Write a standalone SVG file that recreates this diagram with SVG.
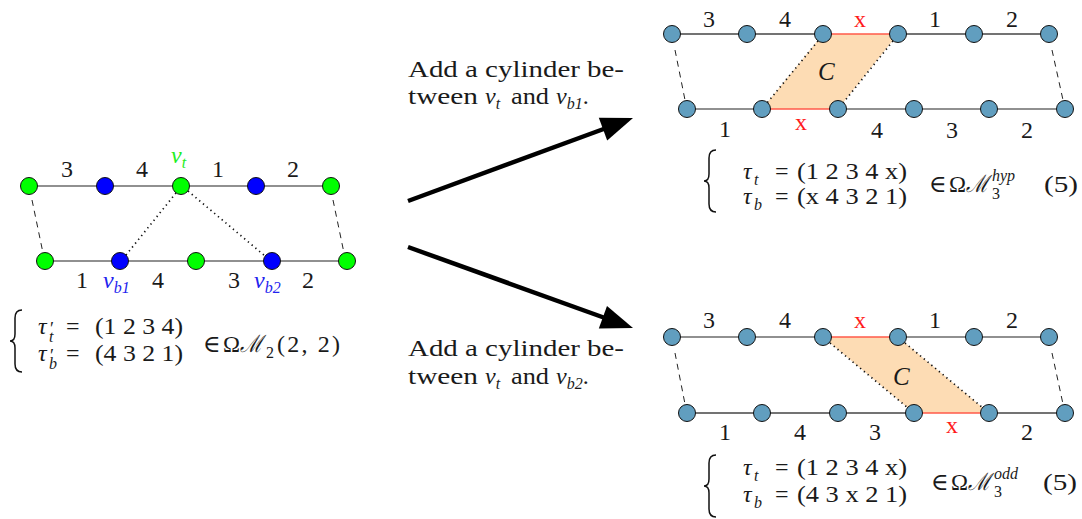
<svg xmlns="http://www.w3.org/2000/svg" width="1082" height="519" viewBox="0 0 1082 519">
<style>
text{font-family:"Liberation Serif","DejaVu Serif",serif;fill:#1a1a1a}
.lbl{font-size:24px;text-anchor:middle}
.red{fill:#ff1a1a}
.it{font-style:italic}
.m{font-size:24px}
.s{font-size:16px}
.pr{font-size:18px;font-style:normal}
.edge{stroke:#222;stroke-width:1.2;fill:none}
.edgeg{stroke:#444;stroke-width:1.4;fill:none}
.rede{stroke:#ff5a4a;stroke-width:1.6;fill:none}
.dash{stroke:#222;stroke-width:1;stroke-dasharray:6 5;fill:none}
.dot{stroke:#111;stroke-width:1.7;stroke-dasharray:1.3 3.6;fill:none}
.nb{fill:#619ebf;stroke:#111;stroke-width:1}
.ng{fill:#00ff00;stroke:#111;stroke-width:1}
.nu{fill:#0000ff;stroke:#111;stroke-width:1}
.cyl{fill:#fddcb4;stroke:none}
.brace{stroke:#111;stroke-width:1.5;fill:none}
.arrow{stroke:#000;stroke-width:4.5;fill:none}
</style>

<!-- Left diagram -->
<g id="left-edges">
<line class="edge" x1="29" y1="186" x2="331" y2="186"/>
<line class="edge" x1="45" y1="261" x2="347" y2="261"/>
<line class="dash" x1="32" y1="200" x2="43" y2="253"/>
<line class="dash" x1="333" y1="200" x2="344" y2="253"/>
<line class="dot" x1="176" y1="193" x2="126" y2="255"/>
<line class="dot" x1="188" y1="191" x2="265" y2="256"/>
</g>
<g id="left-nodes">
<circle class="ng" cx="29" cy="186" r="8.5"/>
<circle class="nu" cx="105" cy="186" r="8.5"/>
<circle class="ng" cx="181" cy="186" r="8.5"/>
<circle class="nu" cx="256" cy="186" r="8.5"/>
<circle class="ng" cx="331" cy="186" r="8.5"/>
<circle class="ng" cx="45" cy="261" r="8.5"/>
<circle class="nu" cx="120" cy="261" r="8.5"/>
<circle class="ng" cx="196" cy="261" r="8.5"/>
<circle class="nu" cx="272" cy="261" r="8.5"/>
<circle class="ng" cx="347" cy="261" r="8.5"/>
</g>
<g id="left-labels">
<text class="lbl" x="67" y="177">3</text>
<text class="lbl" x="142" y="177">4</text>
<text class="lbl" x="218" y="177">1</text>
<text class="lbl" x="293" y="177">2</text>
<text x="171" y="163" class="m it" style="fill:#22ee22">v<tspan class="s" dy="5">t</tspan></text>
<text class="lbl" x="82" y="288">1</text>
<text class="lbl" x="158" y="288">4</text>
<text class="lbl" x="234" y="288">3</text>
<text class="lbl" x="308" y="288">2</text>
<text x="103" y="288" class="m it" style="fill:#2222ee">v<tspan class="s" dy="5">b1</tspan></text>
<text x="254" y="288" class="m it" style="fill:#2222ee">v<tspan class="s" dy="5">b2</tspan></text>
</g>
<g id="left-formula">
<path class="brace" d="M22,310 Q15,310 15,318 L15,334 Q15,341 10,341 Q15,341 15,348 L15,364 Q15,372 22,372"/>
<text x="38" y="334" class="m it">τ<tspan class="pr" x="50" dy="1">′</tspan><tspan class="s" x="49" dy="7">t</tspan></text>
<text x="66" y="334" class="m">=</text>
<text x="95" y="334" class="m" textLength="88" lengthAdjust="spacingAndGlyphs">(1 2 3 4)</text>
<text x="38" y="361" class="m it">τ<tspan class="pr" x="50" dy="1">′</tspan><tspan class="s" x="49" dy="7">b</tspan></text>
<text x="66" y="361" class="m">=</text>
<text x="95" y="361" class="m" textLength="88" lengthAdjust="spacingAndGlyphs">(4 3 2 1)</text>
<text x="203" y="352" class="m">∈</text>
<text x="223" y="352" class="m" textLength="17" lengthAdjust="spacingAndGlyphs">Ω</text>
<text x="240" y="352" class="m it" textLength="23" lengthAdjust="spacingAndGlyphs">ℳ</text>
<text x="266" y="358" class="s">2</text>
<text x="277" y="352" class="m" textLength="63">(2, 2)</text>
</g>

<!-- Arrows -->
<g id="connectors">
<line class="arrow" x1="408" y1="201" x2="605" y2="128.5"/>
<polygon points="633,118 607.2,140.4 598.8,117.8" fill="#000"/>
<line class="arrow" x1="408" y1="247" x2="605" y2="318"/>
<polygon points="633,328 598.8,328.5 607,306" fill="#000"/>
</g>
<g id="caption-top">
<text x="408" y="77" class="m" textLength="216" lengthAdjust="spacingAndGlyphs">Add a cylinder be-</text>
<text x="408" y="104" class="m" textLength="70" lengthAdjust="spacingAndGlyphs">tween</text>
<text x="485" y="104" class="m it">v<tspan class="s" dy="5">t</tspan></text>
<text x="511" y="104" class="m" textLength="38" lengthAdjust="spacingAndGlyphs">and</text>
<text x="556" y="104" class="m it">v<tspan class="s" dy="5">b1</tspan><tspan class="m" dy="-5" font-style="normal">.</tspan></text>
</g>
<g id="caption-bottom">
<text x="408" y="356" class="m" textLength="216" lengthAdjust="spacingAndGlyphs">Add a cylinder be-</text>
<text x="408" y="384" class="m" textLength="70" lengthAdjust="spacingAndGlyphs">tween</text>
<text x="485" y="384" class="m it">v<tspan class="s" dy="5">t</tspan></text>
<text x="511" y="384" class="m" textLength="38" lengthAdjust="spacingAndGlyphs">and</text>
<text x="556" y="384" class="m it">v<tspan class="s" dy="5">b2</tspan><tspan class="m" dy="-5" font-style="normal">.</tspan></text>
</g>

<!-- Top right diagram -->
<g id="tr-cylinder">
<polygon class="cyl" points="823,34 898,34 838,109 762,109"/>
<line class="dot" x1="818" y1="41" x2="767" y2="103"/>
<line class="dot" x1="893" y1="41" x2="843" y2="103"/>
<text x="818" y="80" class="m it" style="font-size:25px">C</text>
</g>
<g id="tr-edges">
<line class="edgeg" x1="672" y1="34" x2="823" y2="34"/>
<line class="rede" x1="823" y1="34" x2="898" y2="34"/>
<line class="edgeg" x1="898" y1="34" x2="1049" y2="34"/>
<line class="edge" x1="687" y1="109" x2="762" y2="109"/>
<line class="rede" x1="762" y1="109" x2="838" y2="109"/>
<line class="edge" x1="838" y1="109" x2="1065" y2="109"/>
<line class="dash" x1="675" y1="50" x2="685" y2="100"/>
<line class="dash" x1="1052" y1="50" x2="1063" y2="100"/>
</g>
<g id="tr-nodes">
<circle class="nb" cx="672" cy="34" r="8.5"/>
<circle class="nb" cx="747" cy="34" r="8.5"/>
<circle class="nb" cx="823" cy="34" r="8.5"/>
<circle class="nb" cx="898" cy="34" r="8.5"/>
<circle class="nb" cx="974" cy="34" r="8.5"/>
<circle class="nb" cx="1049" cy="34" r="8.5"/>
<circle class="nb" cx="687" cy="109" r="8.5"/>
<circle class="nb" cx="762" cy="109" r="8.5"/>
<circle class="nb" cx="838" cy="109" r="8.5"/>
<circle class="nb" cx="914" cy="109" r="8.5"/>
<circle class="nb" cx="989" cy="109" r="8.5"/>
<circle class="nb" cx="1065" cy="109" r="8.5"/>
</g>
<g id="tr-labels">
<text class="lbl" x="709" y="27">3</text>
<text class="lbl" x="785" y="27">4</text>
<text class="lbl red" x="860" y="27">x</text>
<text class="lbl" x="935" y="27">1</text>
<text class="lbl" x="1012" y="27">2</text>
<text class="lbl" x="725" y="137">1</text>
<text class="lbl red" x="801" y="130">x</text>
<text class="lbl" x="877" y="138">4</text>
<text class="lbl" x="952" y="138">3</text>
<text class="lbl" x="1027" y="138">2</text>
</g>
<g id="tr-formula">
<path class="brace" d="M716,150 Q709,150 709,158 L709,174 Q709,181 704,181 Q709,181 709,188 L709,204 Q709,212 716,212"/>
<text x="743" y="179" class="m it">τ</text>
<text x="754" y="185" class="s it">t</text>
<text x="775" y="179" class="m">=</text>
<text x="797" y="179" class="m" textLength="110" lengthAdjust="spacingAndGlyphs">(1 2 3 4 x)</text>
<text x="743" y="204" class="m it">τ</text>
<text x="754" y="210" class="s it">b</text>
<text x="775" y="204" class="m">=</text>
<text x="797" y="204" class="m" textLength="110" lengthAdjust="spacingAndGlyphs">(x 4 3 2 1)</text>
<text x="929" y="192" class="m">∈</text>
<text x="949" y="192" class="m" textLength="17" lengthAdjust="spacingAndGlyphs">Ω</text>
<text x="966" y="192" class="m it" textLength="23" lengthAdjust="spacingAndGlyphs">ℳ</text>
<text x="992" y="181" class="s it">hyp</text>
<text x="992" y="199" class="s">3</text>
<text x="1044" y="192" class="m" textLength="34" lengthAdjust="spacingAndGlyphs">(5)</text>
</g>

<!-- Bottom right diagram -->
<g id="br-cylinder">
<polygon class="cyl" points="823,337 898,337 989,413 914,413"/>
<line class="dot" x1="830" y1="343" x2="908" y2="408"/>
<line class="dot" x1="905" y1="343" x2="983" y2="408"/>
<text x="893" y="385" class="m it" style="font-size:25px">C</text>
</g>
<g id="br-edges">
<line class="edge" x1="672" y1="337" x2="823" y2="337"/>
<line class="rede" x1="823" y1="337" x2="898" y2="337"/>
<line class="edge" x1="898" y1="337" x2="1049" y2="337"/>
<line class="edgeg" x1="687" y1="413" x2="914" y2="413"/>
<line class="rede" x1="914" y1="413" x2="989" y2="413"/>
<line class="edgeg" x1="989" y1="413" x2="1065" y2="413"/>
<line class="dash" x1="675" y1="353" x2="685" y2="404"/>
<line class="dash" x1="1052" y1="353" x2="1063" y2="404"/>
</g>
<g id="br-nodes">
<circle class="nb" cx="672" cy="337" r="8.5"/>
<circle class="nb" cx="747" cy="337" r="8.5"/>
<circle class="nb" cx="823" cy="337" r="8.5"/>
<circle class="nb" cx="898" cy="337" r="8.5"/>
<circle class="nb" cx="974" cy="337" r="8.5"/>
<circle class="nb" cx="1049" cy="337" r="8.5"/>
<circle class="nb" cx="687" cy="413" r="8.5"/>
<circle class="nb" cx="762" cy="413" r="8.5"/>
<circle class="nb" cx="838" cy="413" r="8.5"/>
<circle class="nb" cx="914" cy="413" r="8.5"/>
<circle class="nb" cx="989" cy="413" r="8.5"/>
<circle class="nb" cx="1065" cy="413" r="8.5"/>
</g>
<g id="br-labels">
<text class="lbl" x="709" y="328">3</text>
<text class="lbl" x="785" y="328">4</text>
<text class="lbl red" x="860" y="328">x</text>
<text class="lbl" x="935" y="328">1</text>
<text class="lbl" x="1012" y="328">2</text>
<text class="lbl" x="725" y="440">1</text>
<text class="lbl" x="800" y="440">4</text>
<text class="lbl" x="875" y="440">3</text>
<text class="lbl red" x="952" y="433">x</text>
<text class="lbl" x="1027" y="440">2</text>
</g>
<g id="br-formula">
<path class="brace" d="M716,455 Q709,455 709,463 L709,479 Q709,486 704,486 Q709,486 709,493 L709,509 Q709,517 716,517"/>
<text x="743" y="475" class="m it">τ</text>
<text x="754" y="481" class="s it">t</text>
<text x="775" y="475" class="m">=</text>
<text x="797" y="475" class="m" textLength="110" lengthAdjust="spacingAndGlyphs">(1 2 3 4 x)</text>
<text x="743" y="502" class="m it">τ</text>
<text x="754" y="508" class="s it">b</text>
<text x="775" y="502" class="m">=</text>
<text x="797" y="502" class="m" textLength="110" lengthAdjust="spacingAndGlyphs">(4 3 x 2 1)</text>
<text x="931" y="490" class="m">∈</text>
<text x="951" y="490" class="m" textLength="17" lengthAdjust="spacingAndGlyphs">Ω</text>
<text x="968" y="490" class="m it" textLength="23" lengthAdjust="spacingAndGlyphs">ℳ</text>
<text x="994" y="479" class="s it">odd</text>
<text x="994" y="497" class="s">3</text>
<text x="1043" y="490" class="m" textLength="34" lengthAdjust="spacingAndGlyphs">(5)</text>
</g>
</svg>
